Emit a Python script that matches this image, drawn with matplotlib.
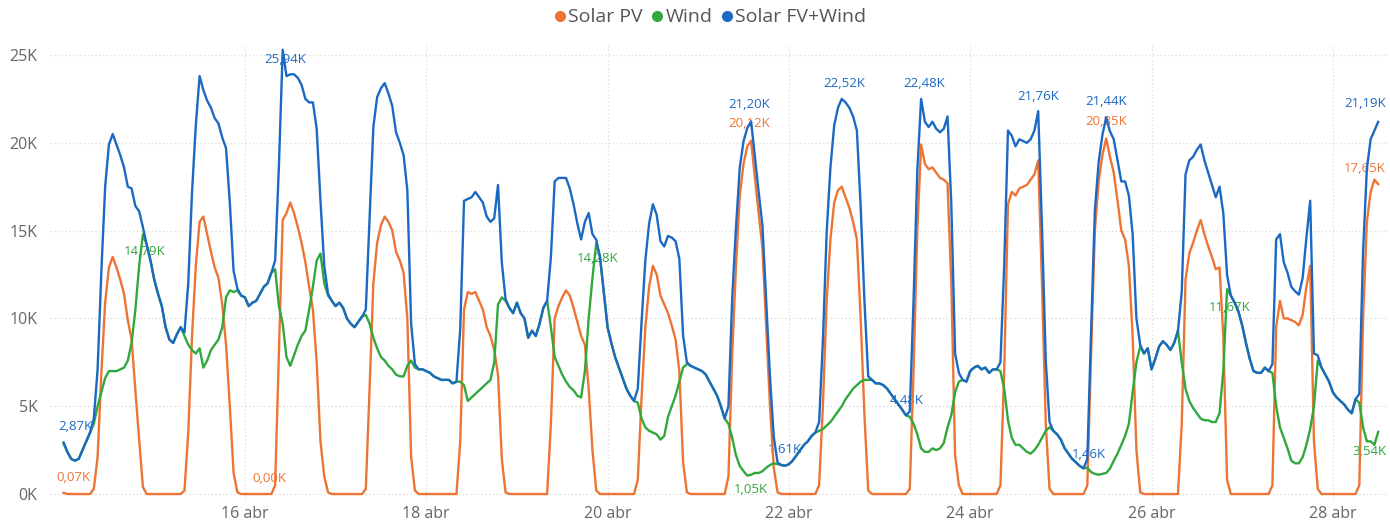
import numpy as np
import matplotlib
matplotlib.use("Agg")
import matplotlib.pyplot as plt
from matplotlib.lines import Line2D

# hourly values (thousands), from 14 abr 00:00 to 28 abr 12:00
solar_14 = [0.07,0,0,0,0,0,0,0, 0.3,2.1,6.9,10.9,12.9,13.5,12.9,12.2, 11.4,9.9,8.8,5.9,3.1,0.4,0,0]
wind_14 = [2.87,2.4,2.0,1.9,2.0,2.5,3.0,3.5, 4.0,5.0,5.8,6.6,7.0,7.0,7.0,7.1, 7.2,7.6,8.6,10.5,13.0,14.79,14.2,13.3]
solar_15 = [0,0,0,0,0,0,0,0, 0.2,3.5,9.0,13.0,15.5,15.8,14.8,13.8, 12.9,12.3,10.8,8.5,5.0,1.2,0.1,0]
wind_15 = [12.2,11.4,10.7,9.5,8.8,8.6,9.1,9.5, 9.0,8.5,8.2,8.0,8.3,7.2,7.6,8.2, 8.5,8.8,9.5,11.2,11.6,11.5,11.6,11.3]
solar_16 = [0,0,0,0,0,0,0,0, 0.5,8.0,15.6,16.0,16.6,16.0,15.2,14.3, 13.2,11.8,10.5,7.5,3.0,1.0,0.1,0]
wind_16 = [11.2,10.7,10.9,11.0,11.4,11.8,12.0,12.6, 12.8,10.7,9.7,7.8,7.3,7.9,8.5,9.0, 9.3,10.5,11.8,13.3,13.7,12.0,11.3,11.0]
solar_17 = [0,0,0,0,0,0,0,0, 0.3,6.0,12.0,14.3,15.3,15.8,15.5,15.0, 13.8,13.3,12.6,10.0,2.1,0.2,0,0]
wind_17 = [10.7,10.9,10.6,10.0,9.7,9.5,9.8,10.1, 10.2,9.7,8.9,8.3,7.8,7.6,7.3,7.1, 6.8,6.7,6.7,7.3,7.6,7.2,7.1,7.1]
solar_18 = [0,0,0,0,0,0,0,0, 0,3.0,10.5,11.5,11.4,11.5,11.0,10.5, 9.5,9.0,8.2,6.8,2.0,0.1,0,0]
wind_18 = [7.0,6.9,6.7,6.6,6.5,6.5,6.5,6.3, 6.4,6.4,6.2,5.3,5.5,5.7,5.9,6.1, 6.3,6.5,7.5,10.8,11.2,11.0,10.6,10.3]
solar_19 = [0,0,0,0,0,0,0,0, 0,4.0,10.0,10.7,11.2,11.6,11.3,10.6, 9.8,9.0,8.5,6.0,2.5,0.2,0,0]
wind_19 = [10.9,10.3,10.0,8.9,9.3,9.0,9.7,10.6, 11.0,9.5,7.8,7.3,6.8,6.4,6.1,5.9, 5.6,5.5,7.0,10.0,12.3,14.28,13.5,11.5]
solar_20 = [0,0,0,0,0,0,0,0, 0.8,5.5,9.5,11.8,13.0,12.5,11.3,10.8, 10.3,9.6,8.8,7.0,1.8,0.1,0,0]
wind_20 = [9.5,8.6,7.8,7.2,6.6,6.0,5.6,5.3, 5.2,4.3,3.8,3.6,3.5,3.4,3.1,3.3, 4.4,5.0,5.6,6.4,7.2,7.4,7.3,7.2]
solar_21 = [0,0,0,0,0,0,0,0, 1.0,8.0,13.0,17.0,18.8,19.8,20.12,18.0, 16.0,14.0,9.5,5.0,1.5,0.1,0,0]
wind_21 = [7.1,7.0,6.8,6.4,6.0,5.6,5.0,4.3, 4.0,3.2,2.2,1.6,1.3,1.05,1.1,1.2, 1.2,1.3,1.5,1.65,1.75,1.7,1.65,1.61]
solar_22 = [0,0,0,0,0,0,0,0, 0.5,5.0,11.0,14.5,16.6,17.3,17.5,16.9, 16.3,15.5,14.5,10.0,4.5,0.2,0,0]
wind_22 = [1.7,1.9,2.2,2.5,2.8,3.0,3.3,3.5, 3.6,3.7,3.9,4.1,4.4,4.7,5.0,5.4, 5.7,6.0,6.2,6.4,6.5,6.5,6.5,6.3]
solar_23 = [0,0,0,0,0,0,0,0, 0.3,7.0,15.0,19.9,18.8,18.5,18.6,18.3, 18.0,17.9,17.7,12.0,2.2,0.5,0,0]
wind_23 = [6.3,6.2,6.0,5.7,5.4,5.1,4.8,4.48, 4.4,4.0,3.4,2.6,2.4,2.4,2.6,2.5, 2.6,2.9,3.8,4.5,5.8,6.4,6.5,6.4]
solar_24 = [0,0,0,0,0,0,0,0, 0.5,7.0,16.5,17.2,17.0,17.4,17.5,17.6, 17.9,18.2,19.0,12.0,4.0,0.3,0,0]
wind_24 = [7.0,7.2,7.3,7.1,7.2,6.9,7.1,7.1, 7.0,6.0,4.2,3.2,2.8,2.8,2.6,2.4, 2.3,2.5,2.8,3.2,3.6,3.8,3.6,3.4]
solar_25 = [0,0,0,0,0,0,0,0.5, 8.0,15.0,17.8,19.3,20.25,19.2,18.3,16.7, 15.0,14.5,13.0,9.0,2.5,0.1,0,0]
wind_25 = [3.1,2.6,2.3,2.0,1.8,1.6,1.46,1.5, 1.25,1.15,1.1,1.15,1.2,1.45,1.9,2.3, 2.8,3.3,4.0,5.8,7.5,8.4,8.0,8.3]
solar_26 = [0,0,0,0,0,0,0,0, 4.0,12.2,13.7,14.3,15.0,15.6,14.8,14.1, 13.5,12.8,12.9,9.0,0.8,0,0,0]
wind_26 = [7.1,7.7,8.4,8.7,8.5,8.2,8.6,9.3, 7.5,6.0,5.3,4.9,4.6,4.3,4.2,4.2, 4.1,4.1,4.6,7.0,11.67,11.3,10.9,10.4]
solar_27 = [0,0,0,0,0,0,0,0, 0.5,9.5,11.0,10.0,10.0,9.9,9.8,9.6, 10.2,11.8,13.0,3.0,0.3,0,0,0]
wind_27 = [9.6,8.6,7.7,7.0,6.9,6.9,7.2,7.0, 6.9,5.0,3.8,3.2,2.6,1.9,1.75,1.75, 2.1,2.8,3.7,5.0,7.6,7.2,6.8,6.4]
solar_28 = [0,0,0,0,0,0,0,0.5, 10.0,15.5,17.2,17.9,17.65]
wind_28 = [5.8,5.5,5.3,5.1,4.8,4.6,5.4,5.2, 3.8,3.0,3.0,2.8,3.54]

series_names = ["Solar PV", "Wind", "Solar FV+Wind"]
tick_hours = [48, 96, 144, 192, 240, 288, 336]
tick_labels = ["16 abr", "18 abr", "20 abr", "22 abr", "24 abr", "26 abr", "28 abr"]
y_ticks = [0, 5, 10, 15, 20, 25]

# (series, hour, text, dx px, dy px)
point_labels = [
    (2, 0, "2,87K", 12, 16),
    (0, 0, "0,07K", 10, 15),
    (1, 21, "14,79K", 2, -17),
    (2, 58, "25,94K", 3, -10),
    (0, 55, "0,00K", -2, 16),
    (1, 141, "14,28K", 1, -15),
    (2, 182, "21,20K", -2, 17),
    (0, 182, "20,12K", -2, 17),
    (1, 181, "1,05K", 4, -14),
    (2, 191, "1,61K", 0, 16),
    (2, 206, "22,52K", 3, 15),
    (2, 227, "22,48K", 3, 15),
    (2, 223, "4,48K", 1, 15),
    (2, 258, "21,76K", 0, 15),
    (2, 276, "21,44K", 0, 16),
    (0, 276, "20,85K", 0, 17),
    (2, 270, "1,46K", 5, 14),
    (1, 308, "11,67K", 3, -18),
    (2, 348, "21,19K", -13, 18),
    (0, 348, "17,65K", -13, 16),
    (1, 348, "3,54K", -9, -20),
]

solar = np.array(solar_14 + solar_15 + solar_16 + solar_17 + solar_18 + solar_19 + solar_20
                 + solar_21 + solar_22 + solar_23 + solar_24 + solar_25 + solar_26 + solar_27 + solar_28)
wind = np.array(wind_14 + wind_15 + wind_16 + wind_17 + wind_18 + wind_19 + wind_20
                + wind_21 + wind_22 + wind_23 + wind_24 + wind_25 + wind_26 + wind_27 + wind_28)
total = solar + wind
hours = np.arange(len(solar))
data = [solar, wind, total]
colors = ["#EE7434", "#31A83C", "#1C69C4"]

plt.rcParams['font.family'] = ['Open Sans', 'DejaVu Sans']
fig = plt.figure(figsize=(13.9, 5.23), dpi=100)
ax = fig.add_axes([50/1390, 23/523, 1338/1390, 455/523])

for vals, c, name in zip(data, colors, series_names):
    ax.plot(hours, vals, color=c, lw=1.7, label=name, zorder=3)

ax.set_xlim(-3.6, 350.6)
ax.set_ylim(-0.34, 25.57)
ax.set_yticks(y_ticks)
ax.set_yticklabels(["%dK" % v for v in y_ticks])
ax.set_xticks(tick_hours)
ax.set_xticklabels(tick_labels)
ax.tick_params(length=0, labelsize=11.5, labelcolor="#666666")
ax.tick_params(axis="y", pad=9)
ax.tick_params(axis="x", pad=4)
ax.grid(True, color="#D9D9D9", ls=(0, (1, 2)), lw=0.9)
ax.set_axisbelow(True)
for s in ax.spines.values():
    s.set_visible(False)

for si, h, txt, dx, dy in point_labels:
    ax.annotate(txt, xy=(h, data[si][h]), xytext=(dx, dy), textcoords="offset pixels",
                ha="center", va="center", fontsize=9.5, color=colors[si],
                zorder=2, annotation_clip=False)

handles = [Line2D([], [], ls="", marker="o", ms=7, color=c) for c in colors]
fig.legend(handles, series_names, loc="upper center", bbox_to_anchor=(0.511, 1.01), ncol=3,
           frameon=False, fontsize=14, handlelength=0.6, handletextpad=0.12,
           columnspacing=0.45, labelcolor="#555555", borderaxespad=0.3)

fig.savefig("out.png", dpi=100)
